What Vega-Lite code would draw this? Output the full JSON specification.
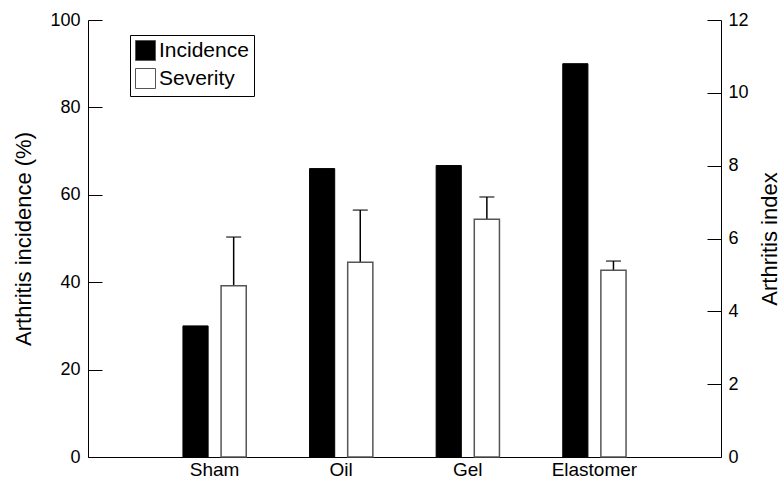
{
  "$schema": "https://vega.github.io/schema/vega-lite/v6.json",
  "autosize": {"type": "none"},
  "width": 633,
  "height": 437,
  "padding": {"left": 88, "top": 20, "right": 60, "bottom": 22},
  "background": "white",
  "config": {
    "view": {"stroke": null},
    "font": "Liberation Sans",
    "axis": {"grid": false, "domainColor": "#000", "tickColor": "#000", "labelColor": "#000", "titleColor": "#000", "labelFont": "Liberation Sans", "titleFont": "Liberation Sans", "titleFontWeight": "normal", "domainWidth": 1, "tickWidth": 1}
  },
  "data": {
    "values": [
      {"group": "Sham", "series": "Incidence", "value": 30, "upper": null},
      {"group": "Oil", "series": "Incidence", "value": 66, "upper": null},
      {"group": "Gel", "series": "Incidence", "value": 66.7, "upper": null},
      {"group": "Elastomer", "series": "Incidence", "value": 90, "upper": null},
      {"group": "Sham", "series": "Severity", "value": 4.7, "upper": 6.04},
      {"group": "Oil", "series": "Severity", "value": 5.35, "upper": 6.78},
      {"group": "Gel", "series": "Severity", "value": 6.53, "upper": 7.14},
      {"group": "Elastomer", "series": "Severity", "value": 5.13, "upper": 5.38}
    ]
  },
  "encoding": {
    "x": {
      "field": "group", "type": "nominal", "sort": ["Sham", "Oil", "Gel", "Elastomer"],
      "scale": {"domain": ["Sham", "Oil", "Gel", "Elastomer"], "paddingInner": 0.5, "paddingOuter": 0.75},
      "axis": {"title": null, "labelAngle": 0, "ticks": false, "labelFontSize": 19, "labelPadding": 3, "domainColor": "#000"}
    },
    "xOffset": {
      "field": "series", "type": "nominal",
      "scale": {"domain": ["Incidence", "Severity"], "paddingInner": 0.34, "paddingOuter": 0}
    }
  },
  "layer": [
    {
      "transform": [{"filter": "datum.series === 'Incidence'"}],
      "mark": {"type": "bar", "stroke": "#000", "strokeWidth": 1},
      "encoding": {
        "y": {
          "field": "value", "type": "quantitative",
          "scale": {"domain": [0, 100], "nice": false},
          "axis": {"title": "Arthritis incidence (%)", "orient": "left", "values": [0, 20, 40, 60, 80, 100], "tickSize": -14, "labelPadding": 22, "labelFontSize": 18, "titleFontSize": 22, "titlePadding": 14}
        },
        "fill": {
          "field": "series", "type": "nominal",
          "scale": {"domain": ["Incidence", "Severity"], "range": ["#000000", "#ffffff"]},
          "legend": {
            "title": null, "orient": "none", "legendX": 42, "legendY": 15,
            "symbolType": "square", "symbolSize": 400, "symbolStrokeColor": "#555", "symbolStrokeWidth": 1,
            "labelFontSize": 21, "labelColor": "#000", "labelFont": "Liberation Sans", "labelOffset": 3,
            "strokeColor": "#000", "padding": 5, "rowPadding": 3, "fillColor": "white"
          }
        }
      }
    },
    {
      "transform": [{"filter": "datum.series === 'Severity'"}],
      "layer": [
        {
          "mark": {"type": "rule", "color": "#000", "strokeWidth": 1.5},
          "encoding": {
            "y": {"field": "value", "type": "quantitative", "scale": {"domain": [0, 12], "nice": false}, "axis": {"title": "Arthritis index", "orient": "right", "values": [0, 2, 4, 6, 8, 10, 12], "tickSize": -14, "labelPadding": 21, "labelFontSize": 18, "titleFontSize": 22, "titleAngle": 270, "titlePadding": 33}},
            "y2": {"field": "upper"}
          }
        },
        {
          "mark": {"type": "tick", "color": "#000", "thickness": 1.5, "size": 15},
          "encoding": {
            "y": {"field": "upper", "type": "quantitative"}
          }
        },
        {
          "mark": {"type": "bar", "fill": "#fff", "stroke": "#555", "strokeWidth": 1.5},
          "encoding": {
            "y": {"field": "value", "type": "quantitative"}
          }
        }
      ]
    }
  ],
  "resolve": {"scale": {"y": "independent"}}
}
